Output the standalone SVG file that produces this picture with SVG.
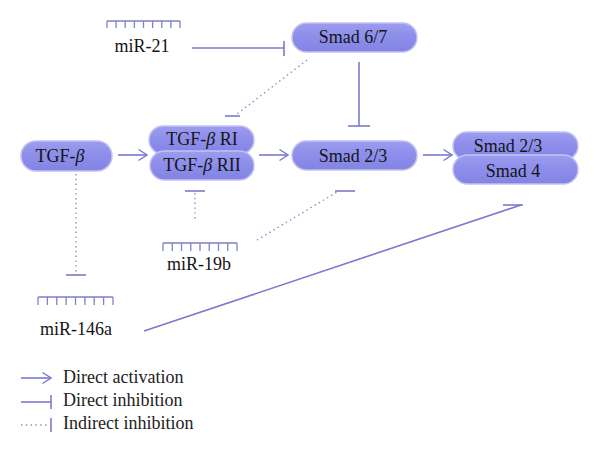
<svg xmlns="http://www.w3.org/2000/svg" width="600" height="456" viewBox="0 0 600 456">
<defs>
<linearGradient id="g" x1="0" y1="0" x2="0" y2="1">
<stop offset="0" stop-color="#9c9cf0"/>
<stop offset="0.5" stop-color="#8d8dea"/>
<stop offset="1" stop-color="#8383e2"/>
</linearGradient>
<marker id="arr" viewBox="0 0 10 12" refX="9.5" refY="6" markerWidth="10" markerHeight="12" markerUnits="userSpaceOnUse" orient="auto">
<path d="M1,0.5 L9.5,6 L1,11.5" fill="none" stroke="#7a7acc" stroke-width="1.3"/>
</marker>
</defs>
<style>
.pill{fill:url(#g);stroke:#c2c2f2;stroke-width:1.5}
.t{font-family:"Liberation Serif","Times New Roman",serif;font-size:18px;fill:#151515}
.lt{font-family:"Liberation Serif","Times New Roman",serif;font-size:18px;fill:#222}
.ln{stroke:#7a7acc;stroke-width:1.6;fill:none}
.dot{stroke:#8a8ac8;stroke-width:1.4;fill:none;stroke-dasharray:1.4 3.4}
.comb{stroke:#8080cc;stroke-width:1.3;fill:none}
</style>
<rect width="600" height="456" fill="#fff"/>
<g id="connectors">
<line class="ln" x1="192" y1="48" x2="284" y2="48"/>
<line class="ln" x1="284" y1="41" x2="284" y2="56"/>
<line class="ln" x1="359" y1="62" x2="359" y2="126"/>
<line class="ln" x1="348" y1="126" x2="370" y2="126"/>
<line class="dot" x1="307" y1="60" x2="237" y2="114"/>
<line class="ln" x1="225" y1="116" x2="240" y2="116"/>
<line class="ln" x1="118" y1="155" x2="147" y2="155" marker-end="url(#arr)"/>
<line class="ln" x1="259" y1="155" x2="288" y2="155" marker-end="url(#arr)"/>
<line class="ln" x1="423" y1="155" x2="452" y2="155" marker-end="url(#arr)"/>
<line class="dot" x1="195" y1="193" x2="195" y2="221"/>
<line class="ln" x1="185" y1="191" x2="205" y2="191"/>
<line class="dot" x1="257" y1="240" x2="337" y2="192"/>
<line class="ln" x1="335" y1="191" x2="355" y2="191"/>
<line class="dot" x1="76" y1="174" x2="76" y2="273"/>
<line class="ln" x1="66" y1="275" x2="86" y2="275"/>
<line class="ln" x1="144" y1="331" x2="521" y2="205"/>
<line class="ln" x1="503" y1="205" x2="523" y2="205"/>
</g>
<g id="miR-21">
<path class="comb" d="M107,21 H180 M107,21 V28 M116.1,21 V28 M125.2,21 V28 M134.4,21 V28 M143.5,21 V28 M152.6,21 V28 M161.8,21 V28 M170.9,21 V28 M180,21 V28"/>
<text class="t" x="142" y="52" text-anchor="middle">miR-21</text>
</g>
<g id="smad67">
<rect class="pill" x="292" y="23" width="125" height="29" rx="14.5"/>
<text class="t" x="353" y="43" text-anchor="middle">Smad 6/7</text>
</g>
<g id="tgfb">
<rect class="pill" x="21" y="141" width="91" height="30" rx="15"/>
<text class="t" x="60" y="162" text-anchor="middle">TGF-<tspan font-style="italic">β</tspan></text>
</g>
<g id="tgfbr">
<rect class="pill" x="149" y="126" width="105" height="28" rx="14"/>
<text class="t" x="202" y="145" text-anchor="middle">TGF-<tspan font-style="italic">β</tspan> RI</text>
<rect class="pill" x="150" y="151" width="104" height="29" rx="14.5"/>
<text class="t" x="202" y="171" text-anchor="middle">TGF-<tspan font-style="italic">β</tspan> RII</text>
</g>
<g id="smad23">
<rect class="pill" x="292" y="141" width="125" height="29" rx="14.5"/>
<text class="t" x="353" y="162" text-anchor="middle">Smad 2/3</text>
</g>
<g id="complex">
<rect class="pill" x="453" y="132" width="125" height="28" rx="14"/>
<text class="t" x="508" y="152" text-anchor="middle">Smad 2/3</text>
<rect class="pill" x="453" y="155" width="125" height="29" rx="14.5"/>
<text class="t" x="513" y="177" text-anchor="middle">Smad 4</text>
</g>
<g id="miR-19b">
<path class="comb" d="M163,243 H237 M163,243 V251 M172.25,243 V251 M181.5,243 V251 M190.75,243 V251 M200,243 V251 M209.25,243 V251 M218.5,243 V251 M227.75,243 V251 M237,243 V251"/>
<text class="t" x="199" y="270" text-anchor="middle">miR-19b</text>
</g>
<g id="miR-146a">
<path class="comb" d="M38,297 H113 M38,297 V305 M47.4,297 V305 M56.75,297 V305 M66.1,297 V305 M75.5,297 V305 M84.9,297 V305 M94.25,297 V305 M103.6,297 V305 M113,297 V305"/>
<text class="t" x="76" y="335" text-anchor="middle">miR-146a</text>
</g>
<g id="legend">
<line class="ln" x1="21" y1="378" x2="51" y2="378" marker-end="url(#arr)"/>
<text class="lt" x="63" y="383">Direct activation</text>
<line class="ln" x1="21" y1="402" x2="51" y2="402"/>
<line class="ln" x1="51" y1="395" x2="51" y2="409"/>
<text class="lt" x="63" y="406">Direct inhibition</text>
<line class="dot" x1="21" y1="425" x2="49" y2="425"/>
<line class="ln" x1="51" y1="418" x2="51" y2="432"/>
<text class="lt" x="63" y="429">Indirect inhibition</text>
</g>
</svg>
